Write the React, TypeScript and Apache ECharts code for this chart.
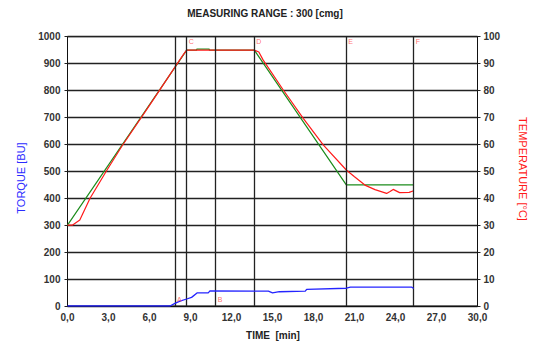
import React, { useEffect, useRef } from "react";
import * as echarts from "echarts";

const titleText = "MEASURING RANGE : 300 [cmg]";
const xTitle = "TIME  [min]";
const leftTitle = "TORQUE [BU]";
const rightTitle = "TEMPERATURE [°C]";

// target temperature profile (°C)
const targetTimes = [0, 8.72, 9.45, 9.46, 10.37, 10.38, 13.67, 20.4, 25.33];
const targetTemps = [30, 95, 95, 95.4, 95.4, 95, 95, 45, 45];

// measured temperature (°C)
const tempTimes = [0, 0.35, 0.9, 1.65, 2.87, 4.0, 6.0, 7.86, 8.5, 8.72, 13.67, 14.0, 14.32, 15.79, 17.25, 18.71, 20.4, 21.0, 21.76, 22.5, 23.35, 23.6, 23.83, 24.3, 25.0, 25.33];
const tempValues = [30, 30, 31.9, 40, 50.3, 59.5, 74.5, 88.7, 93.5, 95, 95, 94.3, 91.3, 80.2, 69.7, 59.8, 50.5, 48.0, 44.9, 43.2, 41.8, 42.5, 43.3, 42.1, 42.2, 42.8];

// torque (BU)
const torqueTimes = [0, 7.5, 7.86, 8.23, 8.72, 9.08, 9.5, 10.3, 10.42, 14.7, 15.0, 15.5, 17.4, 17.5, 20.4, 20.7, 25.2, 25.33];
const torqueValues = [0, 0, 10, 18, 26, 32, 49, 49, 56, 55, 49, 53, 55, 62, 66, 70, 70, 65];

// event markers
const eventTimes = [7.86, 8.72, 10.84, 13.67, 20.4, 25.33];
const eventLabels = ["A", "C", "B", "D", "E", "F"];
const eventAtBottom = [true, false, true, false, false, false];

const xTicks = { min: 0, max: 30, interval: 3 };
const leftTicks = { min: 0, max: 1000, interval: 100 };
const rightTicks = { min: 0, max: 100, interval: 10 };

const zip = (a: number[], b: number[]) => a.map((v, i) => [v, b[i]]);

export default function App() {
  const ref = useRef<HTMLDivElement>(null);
  useEffect(() => {
    if (!ref.current) return;
    const chart = echarts.init(ref.current, null, { renderer: "svg" });
    const labelStyle = {
      fontFamily: "Liberation Sans, Arial, sans-serif",
      fontSize: 10,
      fontWeight: "bold" as const,
      color: "#333",
    };
    chart.setOption({
      animation: false,
      backgroundColor: "#fff",
      grid: {
        left: 67.5,
        right: 58.5,
        top: 36.7,
        bottom: 43,
        show: true,
        borderColor: "#111",
        borderWidth: 1,
        backgroundColor: "transparent",
      },
      graphic: [
        {
          type: "text",
          x: 265,
          y: 13,
          style: {
            text: titleText,
            fontFamily: "Liberation Sans, Arial, sans-serif",
            fontSize: 10,
            fontWeight: "bold",
            fill: "#222",
            textAlign: "center",
            textVerticalAlign: "middle",
          },
        },
        {
          type: "text",
          x: 273,
          y: 335,
          style: {
            text: xTitle,
            fontFamily: "Liberation Sans, Arial, sans-serif",
            fontSize: 10,
            fontWeight: "bold",
            fill: "#222",
            textAlign: "center",
            textVerticalAlign: "middle",
          },
        },
        {
          type: "text",
          x: 21,
          y: 178,
          rotation: Math.PI / 2,
          style: {
            text: leftTitle,
            fontFamily: "Liberation Sans, Arial, sans-serif",
            fontSize: 11,
            fill: "#2b2bff",
            textAlign: "center",
            textVerticalAlign: "middle",
          },
        },
        {
          type: "text",
          x: 523,
          y: 169,
          rotation: -Math.PI / 2,
          style: {
            text: rightTitle,
            fontFamily: "Liberation Sans, Arial, sans-serif",
            fontSize: 11,
            fill: "#ff1a1a",
            textAlign: "center",
            textVerticalAlign: "middle",
          },
        },
      ],
      xAxis: {
        type: "value",
        min: xTicks.min,
        max: xTicks.max,
        interval: xTicks.interval,
        axisLine: { show: true, lineStyle: { color: "#111", width: 1 } },
        axisTick: { show: false },
        splitLine: { show: false },
        axisLabel: {
          ...labelStyle,
          margin: 6,
          formatter: (v: number) => v.toFixed(1).replace(".", ","),
        },
      },
      yAxis: [
        {
          type: "value",
          min: leftTicks.min,
          max: leftTicks.max,
          interval: leftTicks.interval,
          position: "left",
          axisLine: { show: true, lineStyle: { color: "#111", width: 1 } },
          axisTick: { show: true, length: 3, lineStyle: { color: "#222" } },
          splitLine: { show: true, lineStyle: { color: "#222", width: 1.3 } },
          axisLabel: { ...labelStyle, margin: 7, formatter: (v: number) => String(v) },
        },
        {
          type: "value",
          min: rightTicks.min,
          max: rightTicks.max,
          interval: rightTicks.interval,
          position: "right",
          axisLine: { show: true, lineStyle: { color: "#111", width: 1 } },
          axisTick: { show: true, length: 3, lineStyle: { color: "#222" } },
          splitLine: { show: false },
          axisLabel: { ...labelStyle, margin: 6, formatter: (v: number) => String(v) },
        },
      ],
      series: [
        {
          type: "line",
          name: "markers",
          xAxisIndex: 0,
          yAxisIndex: 0,
          data: [],
          markLine: {
            silent: true,
            symbol: ["none", "none"],
            label: { show: false },
            lineStyle: { color: "#222", width: 1.3, type: "solid" },
            data: eventTimes.map((t) => ({ xAxis: t })),
          },
        },
        {
          type: "line",
          name: "target",
          yAxisIndex: 1,
          showSymbol: false,
          data: zip(targetTimes, targetTemps),
          lineStyle: { color: "#1c8c1c", width: 1.2 },
          z: 3,
        },
        {
          type: "line",
          name: "temperature",
          yAxisIndex: 1,
          showSymbol: false,
          data: zip(tempTimes, tempValues),
          lineStyle: { color: "#ff1a1a", width: 1.2 },
          z: 4,
        },
        {
          type: "line",
          name: "torque",
          yAxisIndex: 0,
          showSymbol: false,
          data: zip(torqueTimes, torqueValues),
          lineStyle: { color: "#2424ff", width: 1.3 },
          z: 5,
        },
        {
          type: "scatter",
          name: "eventLabels",
          yAxisIndex: 0,
          symbolSize: 0,
          silent: true,
          z: 10,
          data: eventTimes.map((t, i) => ({
            value: [t, eventAtBottom[i] ? 0 : 1000],
            label: {
              show: true,
              formatter: eventLabels[i],
              position: "right",
              distance: 2,
              offset: [0, eventAtBottom[i] ? -7 : 5],
              fontSize: 7,
              fontFamily: "Liberation Sans, Arial, sans-serif",
              color: "#ff4d4d",
            },
          })),
        },
      ],
    });
    return () => chart.dispose();
  }, []);
  return (
    <div
      ref={ref}
      style={{ position: "fixed", left: 0, top: 0, width: 536, height: 349, background: "#fff" }}
    />
  );
}
